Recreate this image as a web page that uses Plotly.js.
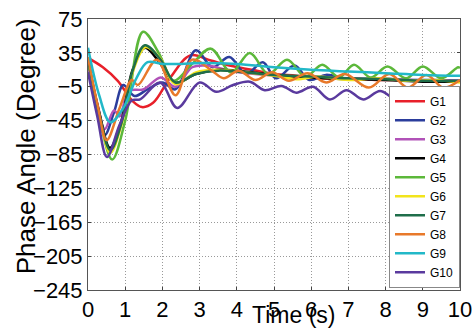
<!DOCTYPE html>
<html>
<head>
<meta charset="utf-8">
<script src="https://cdn.plot.ly/plotly-3.0.1.min.js"></script>
<style>html,body{margin:0;padding:0;background:#fff;}#chart{width:473px;height:329px;}</style>
</head>
<body>
<div id="chart"></div>
<script>
// Series names
var names = ["G1","G2","G3","G4","G5","G6","G7","G8","G9","G10"];
var colors = ["#e8202a","#2b3d9c","#b152b8","#000000","#5cb83a","#f2e41c","#1f6e4a","#e8792a","#22b8c8","#5a3a9e"];

// Time samples (s) and phase angle (degree) for each series
var t1 = [0,0.4,0.8,1.2,1.45,1.75,2.2,2.75,3.3,3.8,4.4,5,5.6,6.2,7,7.8,8.6,9.3,10];
var g1 = [29,18,2,-22,-29,-24,5,32,26,20,15,10,8,5,5,3,3,1,1];

var t2 = [0,0.2,0.45,0.7,0.95,1.25,1.6,2.0,2.35,2.9,3.35,3.8,4.25,4.7,5.05,5.55,5.95,6.4,7,7.8,8.6,9.3,10];
var g2 = [25,-20,-62,-35,-3,-16,-8,0,-8,38,18,30,10,24,5,20,3,9,4,5,3,3,2];

var t3 = [0,0.25,0.45,0.7,0.85,1.1,1.5,1.95,2.35,2.8,3.2,3.8,4.5,5.5,6.5,7.5,8.5,10];
var g3 = [18,-25,-55,-33,-40,-10,-8,6,-5,18,20,14,10,7,6,4,3,2];

var t4 = [0,0.3,0.59,0.9,1.2,1.53,1.9,2.35,2.9,3.5,4,5,6,7,8,9,10];
var g4 = [27,-35,-77,-45,15,41,25,0,10,15,14,9,6,4,3,1,1];

var t5 = [0,0.3,0.65,1.0,1.48,1.9,2.3,2.8,3.3,3.85,4.35,4.85,5.35,5.85,6.3,6.75,7.15,7.6,8.05,8.55,9.0,9.5,9.95,10];
var g5 = [28,-40,-91,-45,60,35,2,22,40,12,35,10,27,7,21,6,21,6,19,5,19,5,18,17];

var t6 = [0,0.3,0.6,0.9,1.2,1.55,1.95,2.35,2.9,3.5,4.2,5,5.6,6.2,7,7.8,8.6,9.3,10];
var g6 = [27,-38,-83,-50,12,42,28,-2,12,15,12,8,4,7,3,5,2,3,0];

var t7 = [0,0.3,0.6,0.9,1.2,1.53,1.95,2.35,2.9,3.5,4.2,5,6,7,8,9,10];
var g7 = [27,-37,-80,-48,14,44,27,0,10,14,12,9,7,5,4,2,2];

var t8 = [0,0.25,0.5,0.85,1.18,1.34,1.85,2.35,2.8,3.3,3.65,4.05,4.5,4.95,5.4,5.9,6.4,6.9,7.55,8.1,8.6,9.1,9.55,10];
var g8 = [30,-25,-68,-30,3,-3,27,-15,27,15,5,14,3,12,2,11,0,10,-6,10,-6,9,-6,3];

var t9 = [0,0.3,0.6,0.95,1.3,1.6,2.0,2.5,3,4,5,6,7,8,9,10];
var g9 = [41,-15,-47,-30,5,24,22,22,23,22,18,15,13,11,9,8];

var t10 = [0,0.25,0.51,0.85,1.18,1.4,1.94,2.4,3.0,3.45,3.9,4.35,4.75,5.2,5.6,6.05,6.5,6.95,7.4,7.85,8.3,8.75,9.2,9.6,10];
var g10 = [12,-40,-88,-50,-21,-20,0,-30,0,-11,-3,1,-9,-4,-12,-5,-20,-9,-20,-10,-20,-13,-23,-15,-14];

// Axis ticks and titles
var xTicks = [0,1,2,3,4,5,6,7,8,9,10];
var yTicks = [75,35,-5,-45,-85,-125,-165,-205,-245];
var xTitle = 'Time (s)';
var yTitle = 'Phase Angle (Degree)';

var xs = [t1,t2,t3,t4,t5,t6,t7,t8,t9,t10];
var ys = [g1,g2,g3,g4,g5,g6,g7,g8,g9,g10];

var traces = names.map(function(n,i){
  return {x: xs[i], y: ys[i], name: n, type: 'scatter', mode: 'lines',
          line: {color: colors[i], width: 2.5, shape: 'spline', smoothing: 1}};
});

var FONT = 'Arial, "Liberation Sans", sans-serif';

var layout = {
  width: 473, height: 329,
  margin: {l: 88, r: 13, t: 19, b: 39},
  paper_bgcolor: '#fff', plot_bgcolor: '#fff',
  font: {family: FONT, color: '#000'},
  showlegend: true,
  legend: {x: 1, y: 0.008, xanchor: 'right', yanchor: 'bottom',
           bgcolor: '#fff', bordercolor: '#888', borderwidth: 1,
           font: {size: 12, color: '#000'}, itemwidth: 30, tracegroupgap: 0},
  xaxis: {range: [0,10], tickvals: xTicks, ticks: 'inside', ticklen: 3,
          showgrid: true, gridcolor: '#999', griddash: '1px,2px', gridwidth: 1,
          showline: true, linecolor: '#555', mirror: 'ticks', zeroline: false,
          tickfont: {size: 22}, automargin: false},
  yaxis: {range: [-245,75], tickvals: yTicks, ticks: 'inside', ticklen: 3,
          showgrid: true, gridcolor: '#999', griddash: '1px,2px', gridwidth: 1,
          showline: true, linecolor: '#555', mirror: 'ticks', zeroline: false,
          tickfont: {size: 22}, automargin: false},
  annotations: [
    {text: xTitle, xref: 'paper', yref: 'paper', x: 0.552, y: -0.094,
     xanchor: 'center', yanchor: 'middle', showarrow: false, font: {size: 23}},
    {text: yTitle, xref: 'paper', yref: 'paper', x: -0.167, y: 0.53, textangle: -90,
     xanchor: 'center', yanchor: 'middle', showarrow: false, font: {size: 26}}
  ]
};

Plotly.newPlot('chart', traces, layout, {displayModeBar: false, staticPlot: true});
</script>
</body>
</html>
